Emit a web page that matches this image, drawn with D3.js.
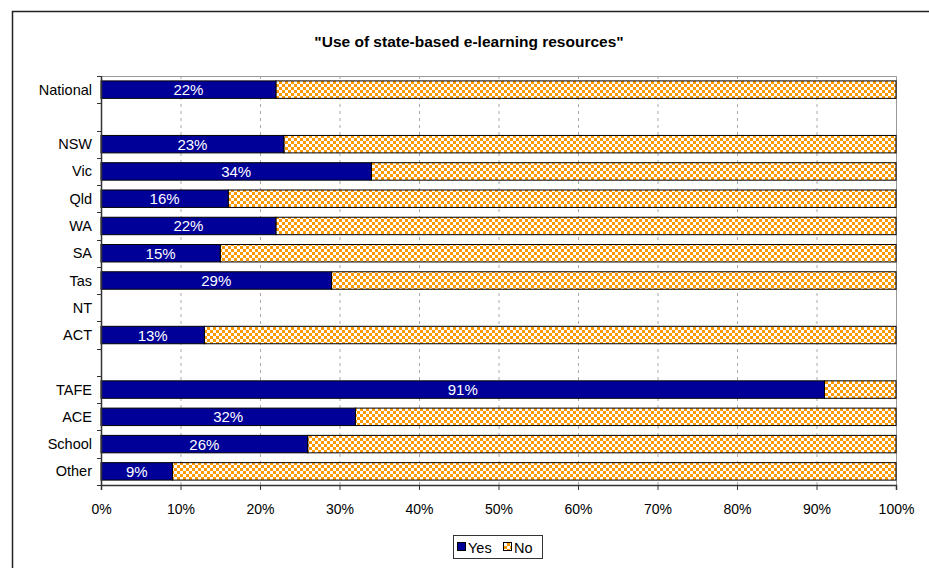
<!DOCTYPE html>
<html><head><meta charset="utf-8">
<script src="https://cdn.jsdelivr.net/npm/d3@7/dist/d3.min.js"></script>
<style>body{margin:0;background:#fff;}svg{display:block;font-family:"Liberation Sans",Arial,sans-serif;}</style>
</head><body>
<svg id="c" width="929" height="568"></svg>
<script>
const categories = ["National","gap1","NSW","Vic","Qld","WA","SA","Tas","NT","ACT","gap2","TAFE","ACE","School","Other"];
const labels = ["National","","NSW","Vic","Qld","WA","SA","Tas","NT","ACT","","TAFE","ACE","School","Other"];
const yesValues = [22,null,23,34,16,22,15,29,null,13,null,91,32,26,9];
const xTicks = [0,10,20,30,40,50,60,70,80,90,100];
const seriesNames = ["Yes","No"];
const title = "\"Use of state-based e-learning resources\"";

const svg = d3.select("#c");
const defs = svg.append("defs");
const pat = defs.append("pattern").attr("id","chk").attr("patternUnits","userSpaceOnUse").attr("width",6).attr("height",6);
pat.append("rect").attr("width",6).attr("height",6).attr("fill","#fff");
pat.append("rect").attr("width",3).attr("height",3).attr("fill","#FF9900");
pat.append("rect").attr("x",3).attr("y",3).attr("width",3).attr("height",3).attr("fill","#FF9900");

// outer frame
svg.append("rect").attr("x",12.5).attr("y",11.5).attr("width",940).attr("height",580).attr("fill","none").attr("stroke","#222").attr("stroke-width",1.5);

const L=101, R=896, T=76, B=485;
const x = d3.scaleLinear().domain([0,100]).range([L,R]);
const y = d3.scaleBand().domain(categories).range([T,B]).paddingInner(0.36).paddingOuter(0.18);

svg.append("text").attr("x",469).attr("y",47).attr("text-anchor","middle").attr("font-size",15.5).attr("font-weight","bold").text(title);

// gridlines
svg.append("g").selectAll("line").data(xTicks.slice(1,-1)).join("line")
  .attr("x1",d=>x(d)+0.5).attr("x2",d=>x(d)+0.5).attr("y1",T).attr("y2",B)
  .attr("stroke","#aaa").attr("stroke-dasharray","3,4");
// plot top/right border
svg.append("path").attr("d",`M${L},${T+0.5}H${R+0.5}V${B}`).attr("fill","none").attr("stroke","#999");

const data = categories.map((c,i)=>({c,v:yesValues[i]})).filter(d=>d.v!=null);
const g = svg.append("g");
g.selectAll("rect.no").data(data).join("rect").attr("class","no")
  .attr("x",d=>x(d.v)).attr("width",d=>x(100)-x(d.v)).attr("y",d=>y(d.c)).attr("height",y.bandwidth())
  .attr("fill","url(#chk)").attr("stroke","#000").attr("stroke-width",1);
g.selectAll("rect.yes").data(data).join("rect").attr("class","yes")
  .attr("x",x(0)).attr("width",d=>x(d.v)-x(0)).attr("y",d=>y(d.c)).attr("height",y.bandwidth())
  .attr("fill","#000099").attr("stroke","#000").attr("stroke-width",1);
g.selectAll("text").data(data).join("text")
  .attr("x",d=>(x(0)+x(d.v))/2).attr("y",d=>y(d.c)+y.bandwidth()/2+5.5)
  .attr("text-anchor","middle").attr("fill","#fff").attr("font-size",15).text(d=>d.v+"%");

// y axis
const yAxis = svg.append("g");
yAxis.append("line").attr("x1",L+0.5).attr("x2",L+0.5).attr("y1",T).attr("y2",B).attr("stroke","#333").attr("stroke-width",1.5);
const bounds = d3.range(categories.length+1).map(i=>T+ (B-T)*i/categories.length);
yAxis.selectAll("line.t").data(bounds).join("line").attr("class","t")
  .attr("x1",L-4).attr("x2",L).attr("y1",d=>Math.round(d)+0.5).attr("y2",d=>Math.round(d)+0.5).attr("stroke","#333");
yAxis.selectAll("text").data(categories).join("text")
  .attr("x",L-9).attr("y",d=>y(d)+y.bandwidth()/2+5).attr("text-anchor","end").attr("font-size",14.5)
  .text((d,i)=>labels[i]);

// x axis
const xg = svg.append("g").attr("transform",`translate(0,${B})`);
xg.call(d3.axisBottom(x).tickValues(xTicks).tickFormat(d=>d+"%").tickSize(5).tickPadding(14));
xg.select(".domain").attr("stroke","#333").attr("stroke-width",1.5);
xg.selectAll(".tick line").attr("stroke","#333");
xg.selectAll("text").attr("font-size",14).attr("font-family","Liberation Sans, Arial, sans-serif").attr("fill","#000");

// legend
const lg = svg.append("g");
lg.append("rect").attr("x",453.5).attr("y",535.5).attr("width",89).attr("height",23).attr("fill","#fff").attr("stroke","#333");
const items = [{n:seriesNames[0],f:"#000099",x:457},{n:seriesNames[1],f:"url(#chk)",x:503}];
items.forEach(it=>{
  lg.append("rect").attr("x",it.x+0.5).attr("y",542.5).attr("width",8).attr("height",8).attr("fill",it.f).attr("stroke","#000");
  lg.append("text").attr("x",it.x+11).attr("y",552.5).attr("font-size",14.5).text(it.n);
});
</script>
</body></html>
